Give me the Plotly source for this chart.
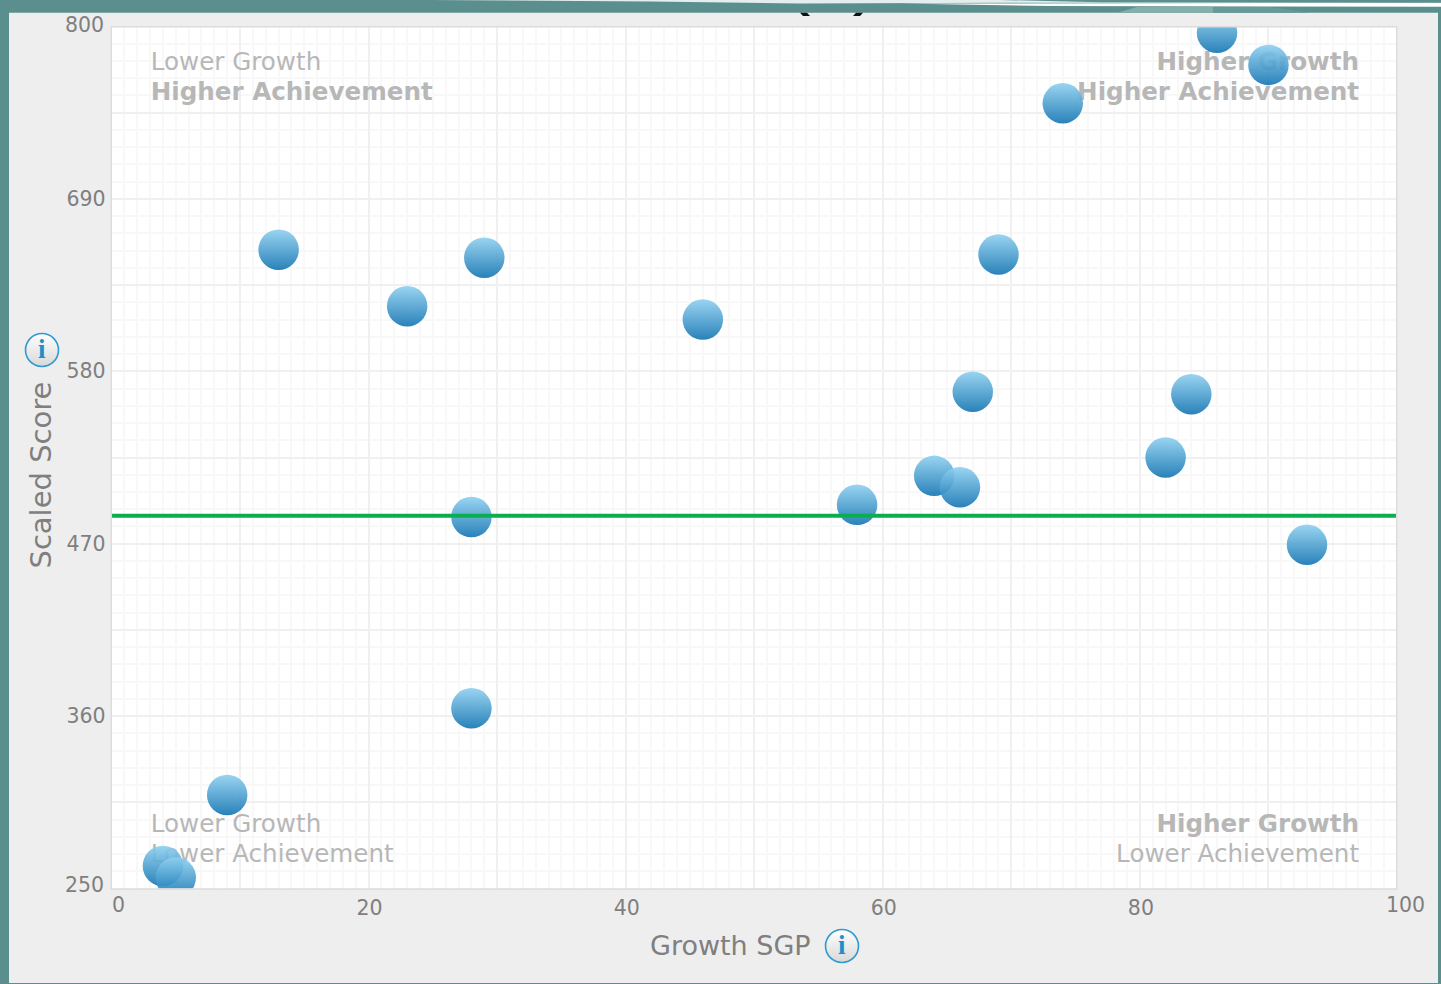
import plotly.graph_objects as go
import base64

# ---- data ----
growth_sgp = [13, 29, 23, 46, 69, 67, 84, 82, 64, 66, 58, 28, 93, 28, 9, 4, 5, 86, 90, 74]
scaled_score = [657.6, 652.5, 621.5, 613, 654.5, 567, 565.4, 525, 513.3, 506, 494.8, 487,
                469.3, 365, 309.7, 264.4, 257, 796, 775.5, 751]
reference_x = [0, 100]
reference_y = [487.8, 487.8]
x_ticks = [0, 10, 20, 30, 40, 50, 60, 70, 80, 90, 100]
x_labels = ["", "", "20", "", "40", "", "60", "", "80", "", ""]
y_ticks = [250, 305, 360, 415, 470, 525, 580, 635, 690, 745, 800]
y_labels = ["", "", "360", "", "470", "", "580", "", "690", "", ""]
quad_left_x = [3.05, 3.05, 3.05, 3.05]
quad_left_y = [776.2, 757.1, 290.0, 270.8]
quad_left_text = ["Lower Growth", "<b>Higher Achievement</b>", "Lower Growth", "Lower Achievement"]
quad_right_x = [97.05, 97.05, 97.05, 97.05]
quad_right_y = [776.2, 757.1, 290.0, 270.8]
quad_right_text = ["<b>Higher Growth</b>", "<b>Higher Achievement</b>", "<b>Higher Growth</b>", "Lower Achievement"]

W, H = 1441, 984
L, R, T, B = 111.5, 1397, 26.5, 888.5
TEAL = "#5a8f8e"
PANEL = "#eeeeee"
TICK = "#7f7f7f"
FONT = "DejaVu Sans"


def px(x):
    return x / W


def py(y):
    return 1 - y / H


def poly(points, color, layer="below"):
    path = "M" + " L".join(f"{px(x):.5f},{py(y):.5f}" for x, y in points) + " Z"
    return dict(type="path", xref="paper", yref="paper", path=path, fillcolor=color,
                line_width=0, layer=layer)


svg = ('<svg xmlns="http://www.w3.org/2000/svg" width="36" height="36"><defs>'
       '<linearGradient id="g" x1="0" y1="0" x2="0" y2="1"><stop offset="0" stop-color="#ffffff"/>'
       '<stop offset="1" stop-color="#d8d8d8"/></linearGradient></defs>'
       '<circle cx="18" cy="18" r="16.5" fill="url(#g)" stroke="#2f9ad0" stroke-width="1.6"/></svg>')
icon = "data:image/svg+xml;base64," + base64.b64encode(svg.encode()).decode()

fig = go.Figure()
fig.add_trace(go.Scatter(x=quad_left_x, y=quad_left_y, text=quad_left_text, mode="text",
                         textposition="middle right", hoverinfo="skip", showlegend=False,
                         textfont=dict(family=FONT, size=24.6, color="#b7b7b7")))
fig.add_trace(go.Scatter(x=quad_right_x, y=quad_right_y, text=quad_right_text, mode="text",
                         textposition="middle left", hoverinfo="skip", showlegend=False,
                         textfont=dict(family=FONT, size=24.6, color="#b7b7b7")))
fig.add_trace(go.Scatter(x=growth_sgp, y=scaled_score, mode="markers", showlegend=False,
                         marker=dict(size=40.5, color="#8fd0f0", opacity=0.9, line_width=0,
                                     gradient=dict(type="vertical", color="#1274b2"))))
fig.add_trace(go.Scatter(x=reference_x, y=reference_y, mode="lines", showlegend=False,
                         line=dict(color="#0bae4f", width=4), hoverinfo="skip"))

shapes = [
    poly([(9, 12.7), (1438, 12.7), (1438, 983), (9, 983)], PANEL),
    poly([(111.5, 26.5), (1396.5, 26.5), (1396.5, 889), (111.5, 889)], "#ffffff"),
    dict(type="rect", xref="paper", yref="paper", x0=px(111.3), x1=px(1396.7), y0=py(889), y1=py(26.7),
         line=dict(color="#dcdcdc", width=1.5), layer="above"),
    # light wedges along the top edge of the frame
    poly([(430, 0), (1441, 0), (1441, 2.7), (1000, 2.7), (800, 3.6), (650, 1.5)], "#e4eeee"),
    poly([(900, 3.6), (1441, 2.8), (1441, 6.8), (1050, 6.0)], "#ffffff"),
    poly([(1000, 0), (1441, 0), (1441, 2.7), (1100, 2.2)], TEAL),
    poly([(1117, 12.7), (1137, 7), (1213, 7), (1213, 12.7)], "#84aeab"),
    poly([(1213, 7), (1270, 7), (1310, 12.7), (1213, 12.7)], "#669a98"),
    # clipped remnants of the heading above the chart
    poly([(800, 12.7), (807, 12.7), (810, 16), (803, 16)], "#111111"),
    poly([(856, 12.7), (863, 12.7), (860, 16), (853, 16)], "#111111"),
]

annotations = [
    dict(x=px(118), y=py(905), text="0"),
    dict(x=px(1405), y=py(905), text="100"),
    dict(x=px(84.5), y=py(885), text="250"),
    dict(x=px(84.5), y=py(25), text="800"),
]
annotations = [dict(a, font=dict(family=FONT, size=20.5, color=TICK)) for a in annotations]
annotations += [
    dict(x=px(730), y=py(945), text="Growth SGP", font=dict(family=FONT, size=27, color=TICK)),
    dict(x=px(41), y=py(475.5), text="Scaled Score", textangle=-90,
         font=dict(family=FONT, size=29, color=TICK)),
    dict(x=px(842), y=py(945), text="<b>i</b>", font=dict(family="Liberation Serif", size=27, color="#1f8fcc")),
    dict(x=px(42), y=py(349), text="<b>i</b>", font=dict(family="Liberation Serif", size=27, color="#1f8fcc")),
]
annotations = [dict(a, xref="paper", yref="paper", showarrow=False, xanchor="center", yanchor="middle")
               for a in annotations]

images = [dict(source=icon, xref="paper", yref="paper", x=px(cx), y=py(cy), sizex=36 / W, sizey=36 / H,
               xanchor="center", yanchor="middle", sizing="stretch", layer="above")
          for cx, cy in [(842, 946), (42, 350)]]

HIDDEN = "rgba(0,0,0,0)"
fig.update_layout(
    width=W, height=H, autosize=False,
    margin=dict(l=0, r=0, t=0, b=0),
    paper_bgcolor=TEAL, plot_bgcolor="#ffffff",
    shapes=shapes, annotations=annotations, images=images,
    font=dict(family=FONT, size=20.5, color=TICK),
    xaxis=dict(domain=[px(L), px(R)], range=[0, 100], tickmode="array", tickvals=x_ticks, ticktext=x_labels,
               showgrid=True, gridcolor="#f0f0f0", gridwidth=2, zeroline=False,
               showline=True, linecolor=HIDDEN, linewidth=1.5, mirror=True,
               ticks="", ticklen=0, ticklabelshift=1,
               tickfont=dict(family=FONT, size=20.5, color=TICK),
               minor=dict(dtick=1, tick0=0, showgrid=True, gridcolor="#f8f8f8", gridwidth=2, ticks="")),
    yaxis=dict(domain=[py(B), py(T)], range=[250, 800], tickmode="array", tickvals=y_ticks, ticktext=y_labels,
               showgrid=True, gridcolor="#f0f0f0", gridwidth=2, zeroline=False,
               showline=True, linecolor=HIDDEN, linewidth=1.5, mirror=True,
               ticks="", ticklen=0,
               tickfont=dict(family=FONT, size=20.5, color=TICK),
               minor=dict(dtick=11, tick0=250, showgrid=True, gridcolor="#f8f8f8", gridwidth=2, ticks="")),
)

fig.write_html("out.html", config=dict(displayModeBar=False),
               post_script="document.body.style.margin='0';document.body.style.overflow='hidden';")
